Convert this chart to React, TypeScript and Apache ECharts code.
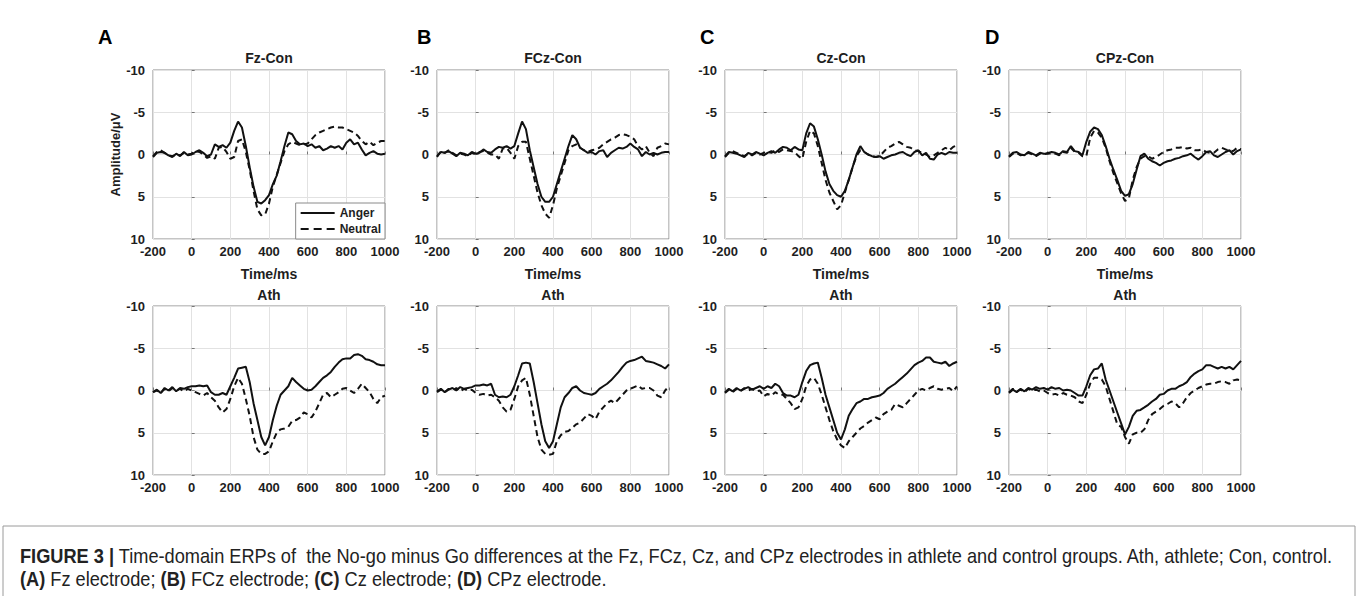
import React, { useEffect, useRef } from "react";
import * as echarts from "echarts";

// Time axis (ms)
const times = [
  -200, -180, -160, -140, -120, -100, -80, -60, -40, -20, 0, 20, 40, 60, 80, 100,
  120, 140, 160, 180, 200, 220, 240, 260, 280, 300, 320, 340, 360, 380, 400,
  420, 440, 460, 480, 500, 520, 540, 560, 580, 600, 620, 640, 660, 680, 700,
  720, 740, 760, 780, 800, 820, 840, 860, 880, 900, 920, 940, 960, 980, 1000,
];
const xTicks = [-200, 0, 200, 400, 600, 800, 1000];
const yTicks = [-10, -5, 0, 5, 10];

// Control group (Con)
const fzConAnger = [
  0.3, -0.2, -0.3, -0.2, 0.1, 0.3, -0.1, 0.2, -0.3, 0.1, 0.0, -0.3, -0.5, -0.2, 0.2, 0.0,
  -1.2, -0.9, -1.1, -0.8, -1.4, -2.8, -3.9, -3.2, -1.0, 1.5, 3.8, 5.6, 5.8, 5.4, 4.8,
  3.5, 2.5, 0.8, -1.0, -2.6, -2.4, -1.6, -1.2, -1.3, -1.0, -1.2, -0.8, -1.0, -0.5, -0.7,
  -1.0, -0.8, -1.0, -0.6, -1.4, -1.8, -1.2, -1.4, -0.6, 0.1, -0.2, -0.4, -0.1, 0.0, -0.1,
];
const fzConNeutral = [
  0.2, -0.3, -0.5, -0.2, 0.1, 0.2, 0.0, 0.1, -0.2, 0.0, -0.1, -0.4, -0.3, 0.0, 0.4, 0.2,
  0.5, -0.8, -0.9, -0.3, 0.5, 0.3, -1.6, -1.8, -0.3, 1.8, 4.3, 6.5, 7.2, 7.1, 5.8,
  3.8, 2.4, 1.0, -0.4, -1.2, -1.5, -1.3, -1.1, -1.2, -1.3, -1.8, -2.3, -2.6, -2.8, -3.0,
  -3.2, -3.3, -3.2, -3.2, -3.0, -2.8, -2.6, -2.2, -1.6, -1.2, -1.5, -1.1, -1.4, -1.6, -1.6,
];
const fczConAnger = [
  0.2, -0.3, -0.2, -0.4, -0.1, 0.2, -0.2, -0.1, 0.1, -0.3, -0.1, -0.2, -0.6, -0.3, -0.2, -0.6,
  -0.9, -0.8, -1.0, -0.7, -1.0, -2.5, -3.9, -3.0, -0.5, 1.5, 3.5, 5.0, 5.6, 5.6, 5.0,
  3.5, 2.0, 0.5, -1.0, -2.3, -1.8, -0.8, -0.5, -0.2, -0.3, 0.0, -0.4, -0.5, 0.3, -0.2,
  -0.5, -0.8, -0.7, -0.9, -1.3, -0.9, -0.6, 0.2, -0.3, 0.0, -0.2, 0.0, -0.2, -0.3, -0.3,
];
const fczConNeutral = [
  0.3, -0.4, -0.2, -0.5, -0.2, 0.1, -0.1, 0.0, 0.2, -0.2, 0.0, -0.3, -0.4, -0.2, 0.0, 0.0,
  0.5, -0.7, -0.8, -0.2, 0.5, -1.0, -1.5, -1.5, 0.5, 2.5, 4.5, 6.0, 7.0, 7.5, 6.0,
  4.0, 2.5, 1.0, -0.5, -1.0, -1.2, -0.8, -0.5, -0.3, -0.5, -0.6, -0.8, -1.2, -1.5, -1.8,
  -2.0, -2.3, -2.4, -2.3, -2.1, -1.8, -1.0, -0.6, -1.0, -0.2, 0.2, -0.8, -1.0, -1.3, -1.2,
];
const czConAnger = [
  0.2, -0.3, -0.2, -0.1, 0.1, 0.3, -0.2, 0.0, -0.3, -0.1, 0.1, -0.2, -0.4, -0.2, -0.6, -0.9,
  -0.8, -0.5, -0.9, -0.6, -0.5, -2.5, -3.7, -3.3, -1.8, 0.0, 2.0, 3.5, 4.3, 4.8, 5.0,
  4.3, 3.0, 1.5, 0.0, -1.0, -0.3, 0.0, 0.2, 0.3, 0.2, 0.5, 0.3, 0.1, 0.0, -0.2,
  -0.3, 0.0, 0.2, -0.3, -0.5, 0.1, -0.2, 0.5, 0.6, 0.0, -0.2, 0.0, -0.3, -0.2, -0.2,
];
const czConNeutral = [
  0.3, -0.2, -0.4, -0.2, 0.0, 0.2, -0.1, 0.1, -0.2, 0.0, -0.2, -0.3, -0.2, -0.5, -0.3, -0.6,
  -0.5, -0.4, -0.3, 0.2, 0.5, -1.5, -2.8, -2.5, -1.0, 1.0, 3.0, 4.5, 5.5, 6.5, 6.0,
  4.5, 3.0, 1.5, 0.2, -0.5, -0.3, 0.0, 0.2, 0.3, 0.2, -0.3, -0.8, -1.0, -1.3, -1.5,
  -1.2, -0.9, -0.8, -0.5, -0.4, -0.2, 0.0, 0.3, 0.1, -0.2, -0.5, -0.8, -0.5, -0.9, -1.1,
];
const cpzConAnger = [
  0.2, -0.2, -0.3, 0.0, 0.1, -0.3, -0.1, 0.1, -0.2, -0.1, -0.1, -0.3, -0.2, 0.0, -0.4, -0.3,
  -1.0, -0.4, -0.3, 0.1, -1.5, -2.7, -3.2, -3.0, -2.3, -1.0, 0.5, 1.8, 3.0, 4.3, 4.9,
  4.7, 3.5, 1.8, 0.2, -0.1, 0.5, 0.8, 1.0, 1.3, 1.0, 0.8, 0.7, 0.5, 0.4, 0.2,
  0.1, -0.1, 0.3, 0.6, 0.2, -0.3, -0.4, 0.1, 0.3, 0.0, -0.3, -0.5, 0.0, -0.4, -0.6,
];
const cpzConNeutral = [
  0.3, -0.1, -0.2, 0.1, 0.0, -0.2, 0.0, 0.2, -0.1, 0.0, -0.2, -0.2, -0.1, 0.1, -0.3, -0.2,
  -0.8, -0.3, -0.2, 0.2, 0.2, -2.0, -2.8, -2.6, -2.0, -0.8, 0.8, 2.2, 3.4, 4.6, 5.5,
  5.2, 3.0, 1.5, 0.5, 0.2, 0.2, 0.5, 0.3, 0.0, -0.3, -0.5, -0.6, -0.8, -0.8, -0.9,
  -0.7, -0.8, -0.5, -0.5, -0.6, -0.3, -0.2, -0.2, -0.6, -0.8, -0.6, -0.5, -0.4, -0.8, -0.6,
];

// Athlete group (Ath)
const fzAthAnger = [
  0.2, -0.1, 0.3, -0.3, 0.0, -0.4, 0.1, -0.3, -0.2, -0.4, -0.5, -0.5, -0.6, -0.5, -0.6, 0.2,
  0.5, 0.5, 0.3, 0.5, -0.5, -1.5, -2.6, -2.7, -2.8, -1.0, 1.5, 3.5, 5.5, 6.5, 5.5,
  3.5, 1.8, 0.5, 0.0, -0.5, -1.5, -1.0, -0.6, -0.2, 0.0, -0.1, -0.5, -1.0, -1.5, -1.8,
  -2.2, -2.8, -3.3, -3.7, -3.8, -3.8, -4.2, -4.3, -4.1, -3.7, -3.6, -3.4, -3.1, -3.0, -3.0,
];
const fzAthNeutral = [
  0.2, 0.0, 0.3, -0.2, 0.1, -0.3, 0.0, -0.2, 0.1, -0.2, 0.0, 0.2, 0.4, 0.6, 0.3, 0.8,
  1.2, 2.0, 2.6, 2.2, 1.0, -0.5, -1.5, -0.8, 1.0, 3.0, 5.5, 7.0, 7.5, 7.5, 7.2,
  6.0, 5.0, 4.6, 4.5, 4.3, 3.6, 3.5, 3.2, 2.6, 2.8, 3.2, 2.5, 1.5, 0.5, 0.3,
  0.8, 0.5, 0.2, -0.2, -0.3, 0.0, 0.3, -0.2, -0.8, -0.3, 0.2, 1.0, 1.5, 0.8, 0.6,
];
const fczAthAnger = [
  0.1, -0.2, 0.2, -0.1, -0.3, 0.0, -0.4, -0.2, -0.3, -0.4, -0.6, -0.6, -0.7, -0.6, -0.8, 0.5,
  0.8, 0.7, 0.8, 0.5, -0.5, -1.8, -3.2, -3.3, -3.2, -1.0, 1.5, 4.0, 6.0, 6.8, 6.0,
  4.0, 2.0, 0.8, 0.3, -0.3, -0.5, 0.0, 0.3, 0.4, 0.5, 0.3, -0.2, -0.5, -0.8, -1.2,
  -1.7, -2.2, -2.8, -3.3, -3.5, -3.6, -3.8, -4.0, -3.5, -3.4, -3.3, -3.1, -2.9, -2.6, -3.1,
];
const fczAthNeutral = [
  0.2, -0.1, 0.2, -0.2, 0.0, -0.3, 0.1, -0.2, 0.0, -0.1, 0.3, 0.5, 0.4, 0.6, 0.5, 0.8,
  1.2, 2.0, 2.5, 2.3, 1.0, -0.5, -1.2, -1.5, 0.5, 3.0, 5.5, 7.0, 7.5, 7.6, 7.5,
  6.0, 5.3, 4.9, 4.8, 4.4, 4.0, 3.8, 3.3, 2.8, 3.0, 3.4, 2.5, 2.0, 1.5, 1.2,
  1.5, 1.0, 0.5, 0.0, -0.2, -0.4, -0.6, -0.2, -0.3, -0.3, 0.0, 0.6, 0.8, 0.0, -0.5,
];
const czAthAnger = [
  0.2, -0.2, 0.1, -0.3, 0.0, -0.2, -0.4, -0.1, -0.3, -0.5, -0.2, -0.5, -0.3, -0.8, -0.5, 0.3,
  0.6, 0.6, 0.8, 0.5, -1.0, -2.3, -3.0, -3.2, -3.3, -1.5, 0.5, 2.0, 3.5, 5.0, 5.8,
  4.6, 3.0, 2.2, 1.5, 1.3, 1.0, 1.0, 0.8, 0.7, 0.6, 0.3, -0.2, -0.5, -0.8, -1.2,
  -1.6, -2.0, -2.5, -3.0, -3.3, -3.5, -3.9, -3.9, -3.4, -3.3, -3.2, -3.4, -2.9, -3.2, -3.4,
];
const czAthNeutral = [
  0.3, -0.1, 0.2, -0.2, 0.1, -0.3, 0.0, -0.2, 0.1, 0.0, 0.7, 0.4, 0.6, 0.2, 0.5, 0.5,
  1.0, 1.5, 2.2, 2.0, 1.0, -0.5, -1.3, -1.5, -0.8, 0.5, 2.0, 3.5, 4.8, 5.8, 6.5,
  6.8, 6.0, 5.5, 5.0, 4.5, 4.2, 3.8, 3.5, 3.2, 3.4, 2.8, 2.5, 2.3, 1.6, 1.8,
  2.0, 1.5, 1.0, 0.5, 0.0, -0.2, 0.0, -0.3, -0.5, -0.2, -0.1, -0.2, -0.3, 0.1, -0.5,
];
const cpzAthAnger = [
  0.3, -0.1, 0.2, -0.2, 0.1, -0.3, -0.1, -0.4, -0.2, -0.3, -0.1, -0.4, -0.2, -0.3, 0.0, -0.1,
  0.0, 0.3, 0.6, 0.6, -0.5, -1.8, -2.5, -2.6, -3.2, -1.3, 0.0, 1.3, 2.6, 3.9, 5.2,
  4.3, 3.0, 2.4, 2.3, 2.0, 1.7, 1.3, 1.0, 0.5, 0.4, 0.0, -0.2, -0.2, -0.5, -0.7,
  -1.0, -1.6, -2.0, -2.3, -2.5, -3.0, -3.0, -2.8, -2.6, -2.8, -2.6, -2.8, -2.5, -3.0, -3.5,
];
const cpzAthNeutral = [
  0.2, -0.2, 0.1, -0.1, 0.2, -0.2, 0.0, -0.1, 0.1, 0.0, 0.3, 0.5, 0.4, 0.6, 0.3, 0.5,
  0.6, 0.8, 1.3, 1.5, 0.5, -0.8, -1.5, -1.5, -1.3, -0.5, 1.0, 2.5, 4.0, 4.3, 5.5,
  6.3, 5.2, 5.0, 5.0, 4.6, 3.5, 2.8, 2.5, 2.2, 1.8, 1.6, 1.3, 1.5, 2.0, 1.5,
  0.8, 0.3, 0.0, -0.3, -0.5, -0.7, -0.8, -0.8, -1.0, -1.1, -1.0, -0.8, -1.2, -1.3, -1.2,
];

const panelTitles = ["Fz-Con", "FCz-Con", "Cz-Con", "CPz-Con", "Ath", "Ath", "Ath", "Ath"];
const panelLetters = ["A", "B", "C", "D"];
const angerSeries = [
  fzConAnger, fczConAnger, czConAnger, cpzConAnger,
  fzAthAnger, fczAthAnger, czAthAnger, cpzAthAnger,
];
const neutralSeries = [
  fzConNeutral, fczConNeutral, czConNeutral, cpzConNeutral,
  fzAthNeutral, fczAthNeutral, czAthNeutral, cpzAthNeutral,
];
const legendNames = ["Anger", "Neutral"];

// Layout (pixels)
const W = 1358;
const H = 596;
const colLefts = [153, 437, 725, 1009];
const rowTops = [70, 306];
const plotW = 232;
const plotH = 169;

const FONT = "'Liberation Sans', Arial, Helvetica, sans-serif";

export default function App() {
  const ref = useRef<HTMLDivElement>(null);

  useEffect(() => {
    if (!ref.current) return;
    const chart = echarts.init(ref.current, undefined, { renderer: "svg" });

    const grids: any[] = [];
    const xAxes: any[] = [];
    const yAxes: any[] = [];
    const series: any[] = [];
    const graphics: any[] = [];

    const labelStyle = {
      color: "#1e1e1e",
      fontSize: 13,
      fontWeight: "bold",
      fontFamily: FONT,
    };

    for (let i = 0; i < 8; i++) {
      const row = Math.floor(i / 4);
      const col = i % 4;
      const left = colLefts[col];
      const top = rowTops[row];
      grids.push({
        left,
        top,
        width: plotW,
        height: plotH,
        show: true,
        backgroundColor: "#fff",
        borderColor: "#8a8a8a",
        borderWidth: 1,
      });
      xAxes.push({
        type: "value",
        gridIndex: i,
        min: xTicks[0],
        max: xTicks[xTicks.length - 1],
        interval: 200,
        axisLine: { show: false },
        axisTick: { show: true, inside: true, length: 3, lineStyle: { color: "#777" } },
        axisLabel: { ...labelStyle, margin: 6, formatter: (v: number) => String(v) },
        splitLine: { show: true, lineStyle: { color: "#e2e2e2", width: 1 } },
        name: row === 0 ? "Time/ms" : "",
        nameLocation: "middle",
        nameGap: 28,
        nameTextStyle: { color: "#1e1e1e", fontSize: 14, fontWeight: "bold", fontFamily: FONT },
      });
      yAxes.push({
        type: "value",
        gridIndex: i,
        inverse: true,
        min: yTicks[0],
        max: yTicks[yTicks.length - 1],
        interval: 5,
        axisLine: { show: false },
        axisTick: { show: true, inside: true, length: 3, lineStyle: { color: "#777" } },
        axisLabel: { ...labelStyle, margin: 8, formatter: (v: number) => String(v) },
        splitLine: { show: true, lineStyle: { color: "#e2e2e2", width: 1 } },
        name: i === 0 ? "Amplitude/\u03bcV" : "",
        nameLocation: "middle",
        nameGap: 30,
        nameTextStyle: { color: "#1e1e1e", fontSize: 13, fontWeight: "bold", fontFamily: FONT },
      });
      series.push({
        type: "line",
        name: legendNames[0],
        xAxisIndex: i,
        yAxisIndex: i,
        data: times.map((t, k) => [t, angerSeries[i][k]]),
        symbol: "none",
        showSymbol: false,
        silent: true,
        lineStyle: { color: "#111", width: 2, type: "solid" },
        itemStyle: { color: "#111" },
        z: 3,
      });
      series.push({
        type: "line",
        name: legendNames[1],
        xAxisIndex: i,
        yAxisIndex: i,
        data: times.map((t, k) => [t, neutralSeries[i][k]]),
        symbol: "none",
        showSymbol: false,
        silent: true,
        lineStyle: { color: "#111", width: 2, type: [6, 4] },
        itemStyle: { color: "#111" },
        z: 2,
      });
      graphics.push({
        type: "text",
        x: left + plotW / 2,
        y: row === 0 ? 58 : 295,
        style: {
          text: panelTitles[i],
          fill: "#1e1e1e",
          font: `bold 14px ${FONT}`,
          align: "center",
          verticalAlign: "middle",
        },
      });
    }

    const letterX = [98, 417, 700, 985];
    panelLetters.forEach((l, c) => {
      graphics.push({
        type: "text",
        x: letterX[c],
        y: 37,
        style: {
          text: l,
          fill: "#000",
          font: `bold 20px ${FONT}`,
          align: "left",
          verticalAlign: "middle",
        },
      });
    });

    // Caption box and text
    graphics.push({
      type: "rect",
      shape: { x: 3, y: 526, width: 1352, height: 80 },
      style: { fill: "none", stroke: "#9a9a9a", lineWidth: 1 },
    });
    const capRich = {
      b: { fontWeight: "bold", fontSize: 20, fontFamily: FONT, fill: "#222" },
    };
    graphics.push({
      type: "text",
      x: 20,
      y: 556,
      scaleX: 0.91,
      style: {
        text:
          "{b|FIGURE 3 |} Time-domain ERPs of  the No-go minus Go differences at the Fz, FCz, Cz, and CPz electrodes in athlete and control groups. Ath, athlete; Con, control.",
        fill: "#222",
        font: `20px ${FONT}`,
        verticalAlign: "middle",
        rich: capRich,
      },
    });
    graphics.push({
      type: "text",
      x: 20,
      y: 579,
      scaleX: 0.91,
      style: {
        text:
          "{b|(A)} Fz electrode; {b|(B)} FCz electrode; {b|(C)} Cz electrode; {b|(D)} CPz electrode.",
        fill: "#222",
        font: `20px ${FONT}`,
        verticalAlign: "middle",
        rich: capRich,
      },
    });

    chart.setOption({
      animation: false,
      backgroundColor: "#fff",
      grid: grids,
      xAxis: xAxes,
      yAxis: yAxes,
      series,
      legend: {
        data: [
          { name: legendNames[0], icon: "path://M0,0h34v2h-34z" },
          { name: legendNames[1], icon: "path://M0,0h8v2h-8z M13,0h8v2h-8z M26,0h8v2h-8z" },
        ],
        orient: "vertical",
        right: W - (colLefts[0] + plotW),
        bottom: H - (rowTops[0] + plotH),
        itemWidth: 34,
        itemHeight: 2,
        itemGap: 4,
        padding: [4, 4, 4, 5],
        borderColor: "#8a8a8a",
        borderWidth: 1,
        borderRadius: 0,
        backgroundColor: "#fff",
        selectedMode: false,
        itemStyle: { color: "#111" },
        textStyle: { color: "#1e1e1e", fontSize: 12, fontWeight: "bold", fontFamily: FONT },
        z: 10,
      },
      graphic: graphics,
    });

    return () => chart.dispose();
  }, []);

  return (
    <div
      ref={ref}
      style={{ position: "absolute", left: 0, top: 0, width: W, height: H, background: "#fff" }}
    />
  );
}
